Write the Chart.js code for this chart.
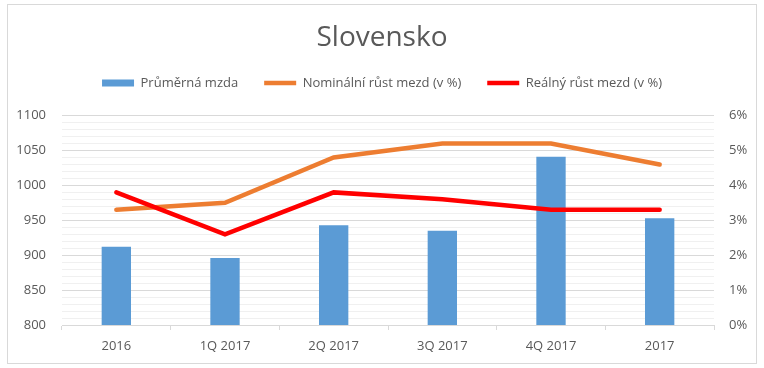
<!DOCTYPE html>
<html lang="cs">
<head>
  <meta charset="UTF-8" />
  <title>Slovensko</title>
  <script src="https://cdn.jsdelivr.net/npm/chart.js"></script>
  <style>
    body {
      margin: 0;
      background: #fff;
    }
    #box {
      position: absolute;
      left: 7px;
      top: 4px;
      width: 748px;
      height: 358px;
      border: 1px solid #d9d9d9;
    }
  </style>
</head>
<body>
  <div id="box">
    <canvas id="chart" width="748" height="358"></canvas>
  </div>

  <script>
    const labels = ['2016', '1Q 2017', '2Q 2017', '3Q 2017', '4Q 2017', '2017'];
    const avgWage = [912, 896, 943, 935, 1041, 953];
    const nominalGrowth = [3.3, 3.5, 4.8, 5.2, 5.2, 4.6];
    const realGrowth = [3.8, 2.6, 3.8, 3.6, 3.3, 3.3];

    const txt = '#595959';
    const font = { family: '"Open Sans", sans-serif', size: 13 };

    new Chart(document.getElementById('chart'), {
      type: 'bar',
      data: {
        labels,
        datasets: [
          {
            label: 'Průměrná mzda',
            data: avgWage,
            backgroundColor: '#5b9bd5',
            pointStyle: 'rect',
            barPercentage: 0.27,
            categoryPercentage: 1,
            yAxisID: 'y',
            order: 2
          },
          {
            type: 'line',
            label: 'Nominální růst mezd (v %)',
            data: nominalGrowth,
            borderColor: '#ed7d31',
            backgroundColor: '#ed7d31',
            borderWidth: 4.5,
            borderCapStyle: 'round',
            pointStyle: 'line',
            pointRadius: 0,
            tension: 0,
            yAxisID: 'y1',
            order: 1
          },
          {
            type: 'line',
            label: 'Reálný růst mezd (v %)',
            data: realGrowth,
            borderColor: '#ff0000',
            backgroundColor: '#ff0000',
            borderWidth: 4.5,
            borderCapStyle: 'round',
            pointStyle: 'line',
            pointRadius: 0,
            tension: 0,
            yAxisID: 'y1',
            order: 0
          }
        ]
      },
      options: {
        responsive: false,
        animation: false,
        layout: { padding: 0 },
        plugins: {
          title: {
            display: true,
            text: 'Slovensko',
            color: txt,
            font: { family: '"Open Sans", sans-serif', size: 28, weight: 'normal' },
            padding: { top: 16, bottom: -4 }
          },
          legend: {
            labels: {
              color: txt,
              font,
              usePointStyle: true,
              pointStyleWidth: 32,
              boxHeight: 7,
              padding: 26,
              sort: (a, b) => a.datasetIndex - b.datasetIndex
            }
          },
          // empty spacer between legend and plot
          subtitle: {
            display: true,
            text: '',
            weight: 500,
            font: { size: 1, lineHeight: 1 },
            padding: { top: 0, bottom: 15 }
          },
          tooltip: { enabled: false }
        },
        scales: {
          x: {
            offset: true,
            grid: {
              offset: true,
              drawOnChartArea: false,
              tickLength: 5,
              color: '#d9d9d9'
            },
            border: { color: '#d9d9d9' },
            ticks: { color: txt, font, padding: 8 },
            afterFit: s => { s.height = 38; }
          },
          y: {
            position: 'left',
            min: 800,
            max: 1100,
            border: { display: false },
            grid: {
              drawTicks: false,
              color: c => (c.tick && c.tick.value % 50 === 0) ? '#d9d9d9' : '#f0f0f0'
            },
            ticks: {
              stepSize: 10,
              autoSkip: false,
              color: txt,
              font,
              padding: 16,
              callback: v => (v % 50 === 0 ? v : '')
            },
            afterFit: s => { s.width = 54; }
          },
          y1: {
            position: 'right',
            min: 0,
            max: 6,
            border: { display: false },
            grid: { drawOnChartArea: false, drawTicks: false },
            ticks: {
              stepSize: 1,
              color: txt,
              font,
              padding: 15,
              callback: v => v + '%'
            },
            afterFit: s => { s.width = 42; }
          }
        }
      }
    });
  </script>
</body>
</html>
